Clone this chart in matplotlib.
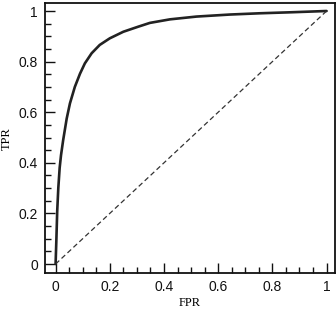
import matplotlib
matplotlib.use("Agg")
import matplotlib.pyplot as plt
from matplotlib.ticker import MultipleLocator

# ROC curve
fpr = [0.0, 0.003, 0.006, 0.010, 0.015, 0.020, 0.028, 0.041, 0.053, 0.071,
       0.090, 0.108, 0.133, 0.163, 0.200, 0.250, 0.305, 0.348, 0.422, 0.520,
       0.643, 0.754, 0.870, 1.0]
tpr = [0.0, 0.10, 0.21, 0.30, 0.38, 0.43, 0.49, 0.575, 0.635, 0.700,
       0.752, 0.793, 0.833, 0.866, 0.892, 0.918, 0.938, 0.953, 0.967, 0.978,
       0.986, 0.991, 0.995, 1.0]
chance = [0.0, 1.0]
tick_vals = [0, 0.2, 0.4, 0.6, 0.8, 1]
tick_labels = ["0", "0.2", "0.4", "0.6", "0.8", "1"]

fig = plt.figure(figsize=(3.36, 3.10), dpi=100)
ax = fig.add_axes([0.134, 0.119, 0.863, 0.870])

ax.plot(fpr, tpr, color="#222222", lw=1.9, solid_capstyle="round",
        solid_joinstyle="round")
ax.plot(chance, chance, color="#333333", lw=0.9, dashes=(4, 2.5))

ax.set_xlim(-0.039, 1.031)
ax.set_ylim(-0.036, 1.030)

ax.set_xticks(tick_vals)
ax.set_xticklabels(tick_labels)
ax.set_yticks(tick_vals)
ax.set_yticklabels(tick_labels)
ax.xaxis.set_minor_locator(MultipleLocator(0.05))
ax.yaxis.set_minor_locator(MultipleLocator(0.05))
ax.tick_params(which="both", direction="in", top=False, right=False,
               colors="#111111", width=1.0)
ax.tick_params(which="major", length=7, labelsize=10, pad=5)
ax.tick_params(which="minor", length=4.5)
for lab in ax.get_xticklabels() + ax.get_yticklabels():
    lab.set_family("Liberation Sans")

for sp in ax.spines.values():
    sp.set_linewidth(1.3)
    sp.set_color("#111111")

ax.set_xlabel("FPR", family="Liberation Serif", fontsize=9, labelpad=2)
ax.set_ylabel("TPR", family="Liberation Serif", fontsize=9, labelpad=4)

fig.savefig("out.png", dpi=100)
